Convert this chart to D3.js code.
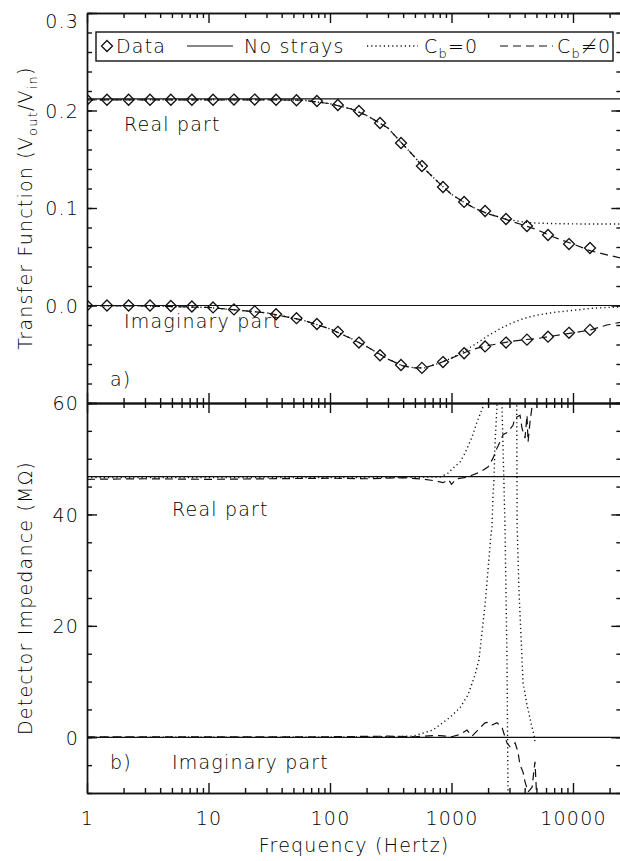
<!DOCTYPE html>
<html lang="en">
<head>
<meta charset="UTF-8">
<script src="https://cdn.jsdelivr.net/npm/d3@7"></script>
<style>
    body { margin: 0; background: white; }
    svg text {
        font-family: "DejaVu Sans", sans-serif;
        font-size: 19px;
        font-weight: 200;
        letter-spacing: 1.2px;
        fill: #000;
    }
    .ax path, .ax line { stroke: #111; stroke-width: 1.4; }
    .curve { fill: none; stroke: #111; stroke-width: 1.2; }
    .dot { stroke-dasharray: 1.2,3; stroke-width: 1.4; }
    .dash { stroke-dasharray: 8,5; }
</style>
</head>
<body>
<svg id="chart" width="620" height="861"></svg>
<script>
// ---- panel a: transfer function, measured points ----
var dataFreq = [1, 1.46, 2.2, 3.3, 4.9, 7.3, 10.9, 16.2, 24, 36, 53, 78, 116, 173, 258, 384, 571, 851, 1270, 1890, 2810, 4180, 6230, 9270, 13800];
var dataReal = [0.211, 0.211, 0.211, 0.211, 0.211, 0.211, 0.211, 0.2112, 0.2112, 0.211, 0.2105, 0.2097, 0.2056, 0.1995, 0.1872, 0.1667, 0.143, 0.1215, 0.1062, 0.0969, 0.0887, 0.0815, 0.0723, 0.063, 0.059];
var dataImag = [0, 0, 0, 0, -0.0005, -0.001, -0.002, -0.004, -0.006, -0.009, -0.013, -0.019, -0.027, -0.038, -0.051, -0.061, -0.064, -0.058, -0.049, -0.042, -0.038, -0.035, -0.032, -0.028, -0.025];

// ---- panel a: model curves ----
var tfFreq = [1, 3, 10, 30, 60, 100, 150, 200, 300, 400, 500, 600, 800, 1000, 1300, 1600, 2000, 2500, 3000, 4000, 5000, 7000, 10000, 14000, 19000, 25000];
var tfRealCb0 = [0.211, 0.211, 0.211, 0.211, 0.2105, 0.207, 0.2015, 0.195, 0.182, 0.165, 0.152, 0.140, 0.125, 0.114, 0.105, 0.099, 0.094, 0.0905, 0.088, 0.0855, 0.0845, 0.084, 0.0837, 0.0836, 0.0836, 0.0836];
var tfRealCb = [0.211, 0.211, 0.211, 0.211, 0.2105, 0.207, 0.2015, 0.195, 0.182, 0.165, 0.152, 0.140, 0.125, 0.114, 0.105, 0.099, 0.094, 0.0905, 0.087, 0.082, 0.078, 0.070, 0.063, 0.056, 0.052, 0.0485];
var tfImagCb0 = [0, -0.0005, -0.002, -0.0075, -0.015, -0.024, -0.034, -0.042, -0.055, -0.062, -0.064, -0.064, -0.059, -0.054, -0.046, -0.039, -0.031, -0.024, -0.019, -0.013, -0.010, -0.007, -0.005, -0.003, -0.002, -0.0015];
var tfImagCb = [0, -0.0005, -0.002, -0.0075, -0.015, -0.024, -0.034, -0.042, -0.055, -0.062, -0.064, -0.064, -0.059, -0.054, -0.048, -0.044, -0.041, -0.039, -0.037, -0.035, -0.034, -0.031, -0.028, -0.025, -0.020, -0.017];
var tfNoStrays = [0.212, 0.0];

// ---- panel b: detector impedance (MOhm) ----
var zDotRealF = [1, 10, 100, 300, 600, 800, 935, 1028, 1175, 1292, 1475, 1622, 1817, 1900, 3300, 3440, 3470, 3594, 3804, 3875, 4182, 4600, 4777, 4866];
var zDotRealV = [46.6, 46.6, 46.6, 46.6, 46.7, 46.7, 47.4, 48.3, 49.4, 51.0, 53.9, 56.6, 59.3, 64, 80, 59.6, 37.7, 26.1, 14.2, 9.9, 5.8, 1.8, 0.4, -0.8];
var zDotImagF = [1, 100, 300, 482, 704, 972, 1175, 1367, 1560, 1683, 1783, 1888, 1960, 2035, 2113, 2153, 2197, 2239, 2281, 2368, 2450, 2560, 2604, 2756, 2862, 2918, 2950];
var zDotImagV = [0, 0, 0.1, 0.2, 1.3, 3.6, 5.3, 7.6, 11.2, 13.9, 18.9, 23.7, 27.9, 32.2, 36.3, 37.7, 43.5, 46.5, 52.5, 59.6, 75, 75, 59.6, 37.9, 14.2, -9.8, -20];
var zDashRealF = [1, 3, 10, 30, 100, 200, 400, 600, 750, 850, 950, 1000, 1100, 1342, 1717, 1996, 2197, 2368, 2506, 2655, 2918, 3208, 3333, 3664, 3804, 4027, 4182, 4266, 4427, 4600, 4866, 5000];
var zDashRealV = [46.3, 46.4, 46.3, 46.4, 46.5, 46.4, 46.6, 46.3, 46.0, 45.7, 46.2, 45.4, 46.4, 46.7, 47.6, 48.5, 50.1, 51.9, 53.0, 54.3, 54.8, 56.0, 57.3, 57.8, 55.5, 53.7, 57.8, 53.0, 56.6, 59.3, 59.6, 65];
var zDashImagF = [1, 10, 100, 300, 500, 700, 804, 1000, 1175, 1342, 1475, 1717, 1888, 1996, 2153, 2368, 2604, 2756, 2862, 3030, 3333, 3524, 3664, 3875, 4027, 4266, 4600, 4866, 5058];
var zDashImagV = [0.1, 0.1, 0.1, 0.2, 0.1, 0.3, 0.3, 0.1, 0.5, 1.3, 0.2, 1.7, 2.6, 2.7, 2.2, 2.6, 1.8, 0.05, -1.0, -1.7, -1.0, -2.6, -5.0, -6.2, -8.0, -9.8, -9.0, -4.4, -12];
var zNoStrays = [46.8, 0];

// ---- axes ----
var xTickLabels = [1, 10, 100, 1000, 10000];
var tfMajor = [-0.1, 0.0, 0.1, 0.2, 0.3];
var tfLabels = [0.0, 0.1, 0.2, 0.3];
var zMajor = [0, 20, 40, 60];
var zLabels = [0, 20, 40, 60];

// layout (plotTop: "top" is taken by window.top)
var left = 87, plotTop = 13, mid = 403, bottom = 793, decade = 121.5;
var svg = d3.select("#chart");

var x = d3.scaleLog().domain([1, 25000]).range([left, left + decade * Math.log10(25000)]);
var right = x.range()[1];
var yA = d3.scaleLinear().domain([-0.1, 0.3]).range([mid, plotTop]);
var yB = d3.scaleLinear().domain([-10, 60]).range([bottom, mid]);

var xMinor = x.ticks().filter(function(v) { return xTickLabels.indexOf(v) < 0; });
var tfMinor = d3.range(-0.1, 0.301, 0.02).map(function(v) { return +v.toFixed(2); });
var zMinor = d3.range(-10, 60.1, 5);

// clip regions
var defs = svg.append("defs");
defs.append("clipPath").attr("id", "clipA").append("rect")
    .attr("x", left).attr("y", plotTop).attr("width", right - left).attr("height", mid - plotTop);
defs.append("clipPath").attr("id", "clipB").append("rect")
    .attr("x", left).attr("y", mid).attr("width", right - left).attr("height", bottom - mid);

// draw inside-pointing ticks on a frame edge
function edge(axisFn, scale, tx, ty, major, minor) {
    svg.append("g").attr("class", "ax")
        .attr("transform", "translate(" + tx + "," + ty + ")")
        .call(axisFn(scale).tickValues(minor).tickSize(5).tickSizeOuter(0).tickFormat(""));
    svg.append("g").attr("class", "ax")
        .attr("transform", "translate(" + tx + "," + ty + ")")
        .call(axisFn(scale).tickValues(major).tickSize(10).tickSizeOuter(0).tickFormat(""));
}

// panel a frame
edge(d3.axisBottom, x, 0, plotTop, xTickLabels, xMinor);
edge(d3.axisTop, x, 0, mid, xTickLabels, xMinor);
edge(d3.axisRight, yA, left, 0, tfMajor, tfMinor);
edge(d3.axisLeft, yA, right, 0, tfMajor, tfMinor);
// panel b frame
edge(d3.axisBottom, x, 0, mid, xTickLabels, xMinor);
edge(d3.axisTop, x, 0, bottom, xTickLabels, xMinor);
edge(d3.axisRight, yB, left, 0, zMajor, zMinor);
edge(d3.axisLeft, yB, right, 0, zMajor, zMinor);

// tick labels
var gxl = svg.append("g").attr("transform", "translate(0," + bottom + ")")
    .call(d3.axisBottom(x).tickValues(xTickLabels).tickSize(0).tickPadding(0).tickFormat(d3.format("d")));
gxl.select(".domain").remove();
gxl.selectAll("text").attr("y", 32).attr("dy", 0);

var gya = svg.append("g").attr("transform", "translate(" + left + ",0)")
    .call(d3.axisLeft(yA).tickValues(tfLabels).tickSize(0).tickPadding(8).tickFormat(d3.format(".1f")));
gya.select(".domain").remove();
gya.selectAll("text").attr("dy", "0.36em");
gya.selectAll(".tick").filter(function(d) { return d === 0.3; }).select("text").attr("dy", "0.78em");

var gyb = svg.append("g").attr("transform", "translate(" + left + ",0)")
    .call(d3.axisLeft(yB).tickValues(zLabels).tickSize(0).tickPadding(8).tickFormat(d3.format("d")));
gyb.select(".domain").remove();
gyb.selectAll("text").attr("dy", "0.36em");

// axis titles
svg.append("text").attr("x", (left + right) / 2).attr("y", 852)
    .attr("text-anchor", "middle").text("Frequency (Hertz)");

var ta = svg.append("text").attr("text-anchor", "middle")
    .attr("transform", "translate(32," + (plotTop + mid) / 2 + ") rotate(-90)");
ta.append("tspan").text("Transfer Function (V");
ta.append("tspan").attr("dy", 5).style("font-size", "13px").text("out");
ta.append("tspan").attr("dy", -5).text("/V");
ta.append("tspan").attr("dy", 5).style("font-size", "13px").text("in");
ta.append("tspan").attr("dy", -5).text(")");

svg.append("text").attr("text-anchor", "middle")
    .attr("transform", "translate(32," + (mid + bottom) / 2 + ") rotate(-90)")
    .text("Detector Impedance (M\u03A9)");

// curve helper
function curve(yScale, clip, fr, vals, cls) {
    var line = d3.line().x(function(d) { return x(d[0]); }).y(function(d) { return yScale(d[1]); });
    svg.append("path").datum(d3.zip(fr, vals))
        .attr("class", "curve " + cls)
        .attr("clip-path", "url(#" + clip + ")")
        .attr("d", line);
}

// panel a curves
tfNoStrays.forEach(function(v) { curve(yA, "clipA", x.domain(), [v, v], ""); });
curve(yA, "clipA", tfFreq, tfRealCb0, "dot");
curve(yA, "clipA", tfFreq, tfImagCb0, "dot");
curve(yA, "clipA", tfFreq, tfRealCb, "dash");
curve(yA, "clipA", tfFreq, tfImagCb, "dash");

var diamond = "M0,-5.5L5.5,0L0,5.5L-5.5,0Z";
[dataReal, dataImag].forEach(function(series) {
    svg.append("g").attr("clip-path", "url(#clipA)")
        .selectAll("path").data(d3.zip(dataFreq, series)).enter().append("path")
        .attr("d", diamond)
        .attr("transform", function(d) { return "translate(" + x(d[0]) + "," + yA(d[1]) + ")"; })
        .attr("fill", "none").attr("stroke", "#111").attr("stroke-width", 1.3);
});

// panel b curves
zNoStrays.forEach(function(v) { curve(yB, "clipB", x.domain(), [v, v], ""); });
curve(yB, "clipB", zDotRealF, zDotRealV, "dot");
curve(yB, "clipB", zDotImagF, zDotImagV, "dot");
curve(yB, "clipB", zDashRealF, zDashRealV, "dash");
curve(yB, "clipB", zDashImagF, zDashImagV, "dash");

// in-plot labels
function label(tx, ty, s) { svg.append("text").attr("x", tx).attr("y", ty).text(s); }
label(124, 131, "Real part");
label(124, 328, "Imaginary part");
label(110, 386, "a)");
label(172, 516, "Real part");
label(172, 769, "Imaginary part");
label(110, 769, "b)");

// legend
var lg = svg.append("g");
lg.append("rect").attr("x", 96).attr("y", 32).attr("width", 517).attr("height", 29)
    .attr("fill", "white").attr("stroke", "#111").attr("stroke-width", 1.4);
lg.append("path").attr("d", diamond).attr("transform", "translate(107,46)")
    .attr("fill", "none").attr("stroke", "#111").attr("stroke-width", 1.3);
lg.append("text").attr("x", 116).attr("y", 53).text("Data");
lg.append("line").attr("class", "curve").attr("x1", 187).attr("x2", 233).attr("y1", 46).attr("y2", 46);
lg.append("text").attr("x", 244).attr("y", 53).text("No strays");
lg.append("line").attr("class", "curve dot").attr("x1", 367).attr("x2", 418).attr("y1", 46).attr("y2", 46);
var t1 = lg.append("text").attr("x", 424).attr("y", 53);
t1.append("tspan").text("C");
t1.append("tspan").attr("dy", 5).style("font-size", "13px").text("b");
t1.append("tspan").attr("dy", -5).text("=0");
lg.append("line").attr("class", "curve dash").attr("x1", 500).attr("x2", 553).attr("y1", 46).attr("y2", 46);
var t2 = lg.append("text").attr("x", 557).attr("y", 53);
t2.append("tspan").text("C");
t2.append("tspan").attr("dy", 5).style("font-size", "13px").text("b");
t2.append("tspan").attr("dy", -5).text("\u22600");
</script>
</body>
</html>
